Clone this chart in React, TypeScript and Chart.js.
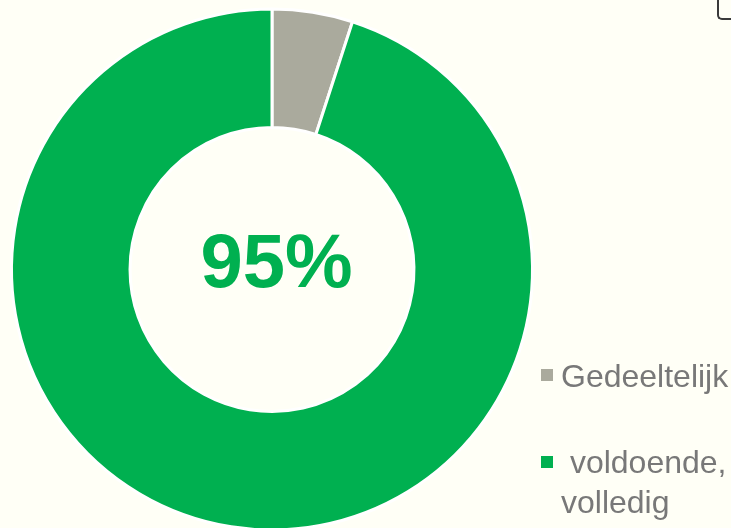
import React, { useEffect, useRef } from "react";
import { Chart, registerables } from "chart.js";

Chart.register(...registerables);

const categories = ["Gedeeltelijk", " voldoende, volledig"];
const values = [5, 95];
const colors = ["#AAAA9D", "#00B050"];
const centerLabel = "95%";
const legendLines = [["Gedeeltelijk"], [" voldoende,", "volledig"]];

export default function App() {
  const ref = useRef<HTMLCanvasElement | null>(null);

  useEffect(() => {
    document.body.style.margin = "0";
    document.body.style.overflow = "hidden";
    document.body.style.background = "#FFFFF6";
    const chart = new Chart(ref.current as HTMLCanvasElement, {
      type: "doughnut",
      data: {
        labels: categories,
        datasets: [
          {
            data: values,
            backgroundColor: colors,
            borderColor: "#FFFFFF",
            borderWidth: 3,
          },
        ],
      },
      options: {
        animation: false,
        responsive: false,
        maintainAspectRatio: false,
        cutout: "54.5%",
        layout: { padding: { left: 10, top: 7.5, right: 197, bottom: 8.5 } },
        plugins: { legend: { display: false }, tooltip: { enabled: false } },
      },
    });
    return () => chart.destroy();
  }, []);

  return (
    <div
      style={{
        position: "relative",
        width: 731,
        height: 528,
        overflow: "hidden",
        background: "#FFFFF6",
        fontFamily: "'Liberation Sans', Arial, sans-serif",
      }}
    >
      <canvas
        ref={ref}
        width={731}
        height={540}
        style={{ position: "absolute", left: 0, top: 0, width: 731, height: 540 }}
      />
      <div
        style={{
          position: "absolute",
          left: 176.5,
          top: 223,
          width: 200,
          textAlign: "center",
          fontWeight: "bold",
          fontSize: 76,
          lineHeight: "76px",
          color: "#00B050",
        }}
      >
        {centerLabel}
      </div>
      {legendLines.map((lines, i) => (
        <div key={i}>
          <div
            style={{
              position: "absolute",
              left: 541,
              top: i === 0 ? 369 : 456,
              width: 12,
              height: 12,
              background: colors[i],
            }}
          />
          {lines.map((t, j) => (
            <div
              key={j}
              style={{
                position: "absolute",
                left: 561,
                top: (i === 0 ? 356 : 442) + j * 40,
                fontSize: 32,
                lineHeight: "40px",
                color: "#787878",
                whiteSpace: "pre",
              }}
            >
              {t}
            </div>
          ))}
        </div>
      ))}
      <div
        style={{
          position: "absolute",
          left: 716.5,
          top: -10,
          width: 40,
          height: 28,
          borderLeft: "2.5px solid #3A3A3A",
          borderBottom: "2.5px solid #3A3A3A",
          borderBottomLeftRadius: 5,
        }}
      />
    </div>
  );
}
